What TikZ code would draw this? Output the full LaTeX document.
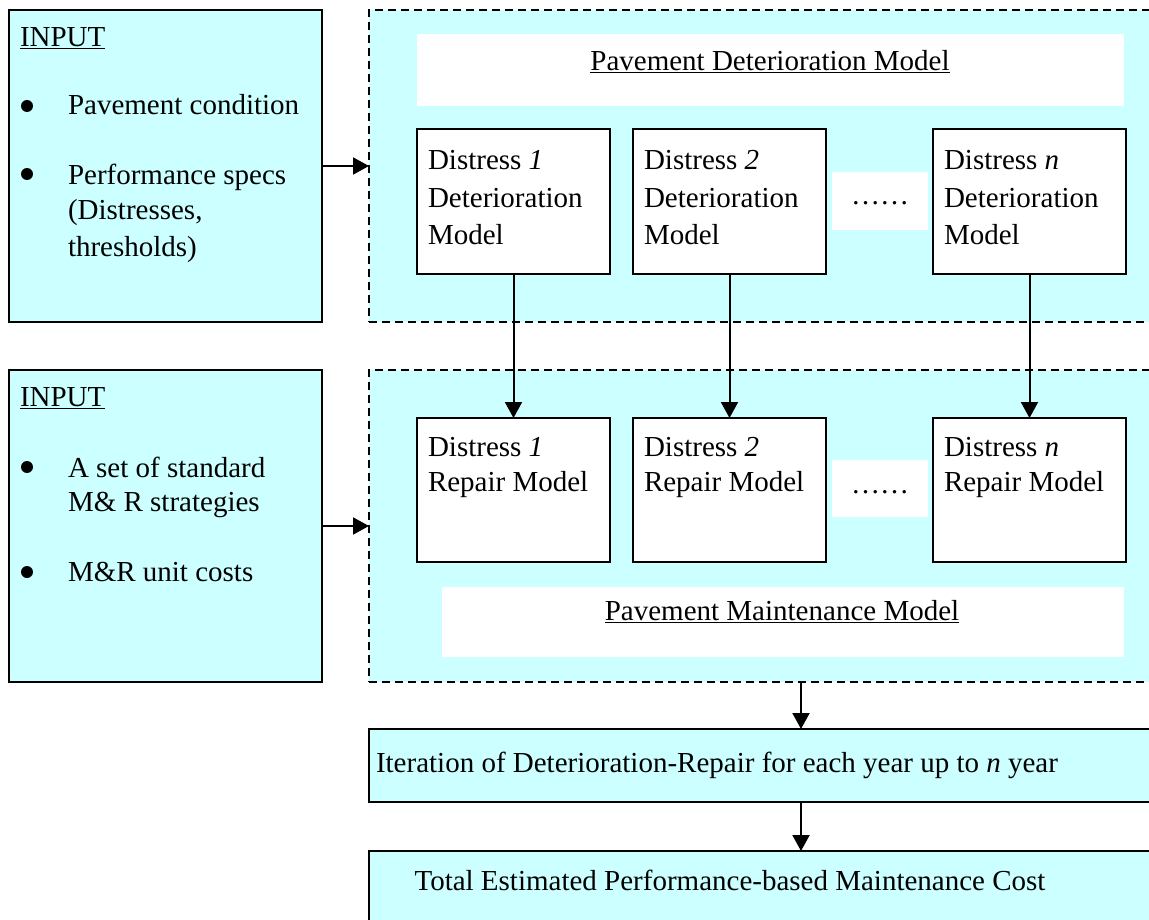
\documentclass[tikz,border=0pt]{standalone}
\usepackage{fontspec}
\setmainfont{Liberation Serif}
\usetikzlibrary{arrows.meta}
\definecolor{paleCyan}{HTML}{CCFFFF}
\begin{document}
\begin{tikzpicture}[x=1pt,y=-1pt,
  every node/.style={inner sep=0pt, outer sep=0pt},
  txt/.style={font=\fontsize{29}{36}\selectfont, anchor=west},
  ctxt/.style={font=\fontsize{29}{36}\selectfont},
  dot/.style={circle, fill=black, minimum size=12pt},
  inbox/.style={draw=black, line width=2pt, fill=paleCyan, anchor=north west},
  group/.style={draw=black, line width=2pt, dash pattern=on 8pt off 5pt, fill=paleCyan, anchor=north west},
  model/.style={draw=black, line width=2pt, fill=white, anchor=north west,
                minimum width=193pt, minimum height=145pt},
  blank/.style={fill=white, anchor=north west},
  arr/.style={line width=2pt, -{Triangle[length=16pt,width=17pt]}}
]
\useasboundingbox (0,0) rectangle (1149,920);
\clip (0,0) rectangle (1149,920);

% ---------- input boxes ----------
\node[inbox, minimum width=313pt, minimum height=312pt] (in1) at (9,10) {};
\node[txt] (in1h) at (20,38) {\underline{INPUT}};
\node[dot] (in1b1) at (27,106) {};
\node[txt] (in1a) at (68,105) {Pavement condition};
\node[dot] (in1b2) at (27,174) {};
\node[txt] (in1c) at (68,177) {Performance specs};
\node[txt] (in1d) at (68,213) {(Distresses,};
\node[txt] (in1e) at (68,250) {thresholds)};

\node[inbox, minimum width=313pt, minimum height=312pt] (in2) at (9,370) {};
\node[txt] (in2h) at (20,398) {\underline{INPUT}};
\node[dot] (in2b1) at (27,467) {};
\node[txt] (in2a) at (68,467) {A set of standard};
\node[txt] (in2c) at (68,505) {M\& R strategies};
\node[dot] (in2b2) at (27,572) {};
\node[txt] (in2d) at (68,572) {M\&R unit costs};

% ---------- deterioration group ----------
\node[group, minimum width=800pt, minimum height=312pt] (dm) at (369,10) {};
\node[blank, minimum width=707pt, minimum height=72pt] (dmh) at (417,34) {};
\node[ctxt] (dmt) at (770,62) {\underline{Pavement Deterioration Model}};

\node[model] (d1) at (417,129) {};
\node[model] (d2) at (633,129) {};
\node[model] (dn) at (933,129) {};
\node[blank, minimum width=96pt, minimum height=58pt] (ddots) at (832,172) {};
\node[ctxt] (ddt) at (880,203) {\dots\dots};
\node[txt] (d1a) at (428,160) {Distress \textit{1}};
\node[txt] (d1b) at (428,198) {Deterioration};
\node[txt] (d1c) at (428,235) {Model};
\node[txt] (d2a) at (644,160) {Distress \textit{2}};
\node[txt] (d2b) at (644,198) {Deterioration};
\node[txt] (d2c) at (644,235) {Model};
\node[txt] (dna) at (944,160) {Distress \textit{n}};
\node[txt] (dnb) at (944,198) {Deterioration};
\node[txt] (dnc) at (944,235) {Model};

% ---------- maintenance group ----------
\node[group, minimum width=800pt, minimum height=312pt] (mm) at (369,370) {};
\node[model, minimum height=144pt] (r1) at (417,418) {};
\node[model, minimum height=144pt] (r2) at (633,418) {};
\node[model, minimum height=144pt] (rn) at (933,418) {};
\node[blank, minimum width=96pt, minimum height=57pt] (rdots) at (832,460) {};
\node[ctxt] (rdt) at (880,492) {\dots\dots};
\node[txt] (r1a) at (428,447) {Distress \textit{1}};
\node[txt] (r1b) at (428,485) {Repair Model};
\node[txt] (r2a) at (644,447) {Distress \textit{2}};
\node[txt] (r2b) at (644,485) {Repair Model};
\node[txt] (rna) at (944,447) {Distress \textit{n}};
\node[txt] (rnb) at (944,485) {Repair Model};
\node[blank, minimum width=682pt, minimum height=70pt] (mmh) at (442,587) {};
\node[ctxt] (mmt) at (782,612) {\underline{Pavement Maintenance Model}};

% ---------- result boxes ----------
\node[inbox, minimum width=800pt, minimum height=73pt] (it) at (369,729) {};
\node[txt] (itt) at (376,765) {Iteration of Deterioration-Repair for each year up to \textit{n} year};
\node[inbox, minimum width=800pt, minimum height=90pt] (tot) at (369,851) {};
\node[ctxt] (tott) at (730,880) {Total Estimated Performance-based Maintenance Cost};

% ---------- connectors ----------
\coordinate (ax) at (801,0);
\draw[arr] (in1.east) -- (in1.east -| dm.west);
\draw[arr] (in2.east) -- (in2.east -| mm.west);
\draw[arr] (d1.south) -- (r1.north);
\draw[arr] (d2.south) -- (r2.north);
\draw[arr] (dn.south) -- (rn.north);
\draw[arr] (mm.south -| ax) -- (it.north -| ax);
\draw[arr] (it.south -| ax) -- (tot.north -| ax);
\end{tikzpicture}
\end{document}
